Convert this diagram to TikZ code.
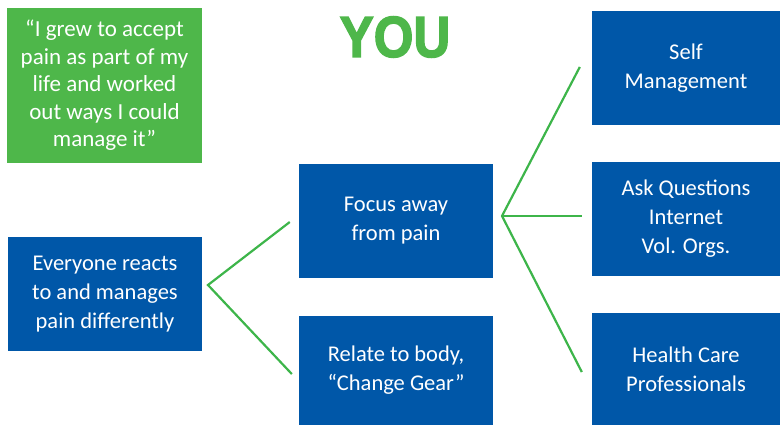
\documentclass[tikz,border=0pt]{standalone}
\usepackage{fontspec}
\setmainfont{Carlito}
\newfontfamily\youfont[FakeBold=2.5]{Liberation Sans}
\usetikzlibrary{positioning}
\definecolor{boxblue}{RGB}{0,87,168}
\definecolor{quotegreen}{RGB}{78,183,74}
\definecolor{forkgreen}{RGB}{61,181,74}
\tikzset{blockbox/.style = {fill=boxblue, text=white, align=center,
                            minimum width=194pt, minimum height=114pt,
                            inner sep=0pt,
                            font=\fontsize{22.5}{29}\selectfont},
         quotebox/.style = {blockbox, fill=quotegreen, minimum width=195pt,
                            minimum height=155pt,
                            font=\fontsize{23}{27.5}\selectfont},
         fork/.style = {draw=forkgreen, line width=2.2pt}}

\begin{document}
\begin{tikzpicture}[x=1pt, y=-1pt]
  \useasboundingbox (0,0) rectangle (780,425);

  \node[quotebox] (quote) at (104.5,85.5)
    {``I grew to accept\\pain as part of my\\life and worked\\out ways I could\\manage it''};
  \node[text=quotegreen, font=\youfont\bfseries\fontsize{58}{58}\selectfont,
        xscale=0.88, inner sep=0pt] (you) at (395,37) {YOU};

  \node[blockbox] (everyone) at (105,294) {Everyone reacts\\to and manages\\pain differently};
  \node[blockbox] (focus) at (396,221) {Focus away\\from pain};
  \node[blockbox, minimum height=109pt] (relate) at (396,370.5) {Relate to body,\\``Change Gear''};

  \node[blockbox, minimum width=188pt] (self) at (686,68) {Self\\Management};
  \node[blockbox, minimum width=188pt] (ask) at (686,219) {Ask Questions\\Internet\\Vol. Orgs.};
  \node[blockbox, minimum width=188pt, minimum height=112pt] (health) at (686,369) {Health Care\\Professionals};

  \coordinate (lfork) at (208,285);
  \coordinate (rfork) at (502,216);

  \draw[fork] ([xshift=-9pt,yshift=-1pt]focus.west) -- (lfork) -- ([xshift=-7pt,yshift=-3.5pt]relate.west);
  \draw[fork] ([xshift=-12pt,yshift=1pt]self.west) -- (rfork) -- ([xshift=-10pt,yshift=-3pt]health.west);
  \draw[fork] (rfork) -- ([xshift=-10pt,yshift=3pt]ask.west);
\end{tikzpicture}
\end{document}
